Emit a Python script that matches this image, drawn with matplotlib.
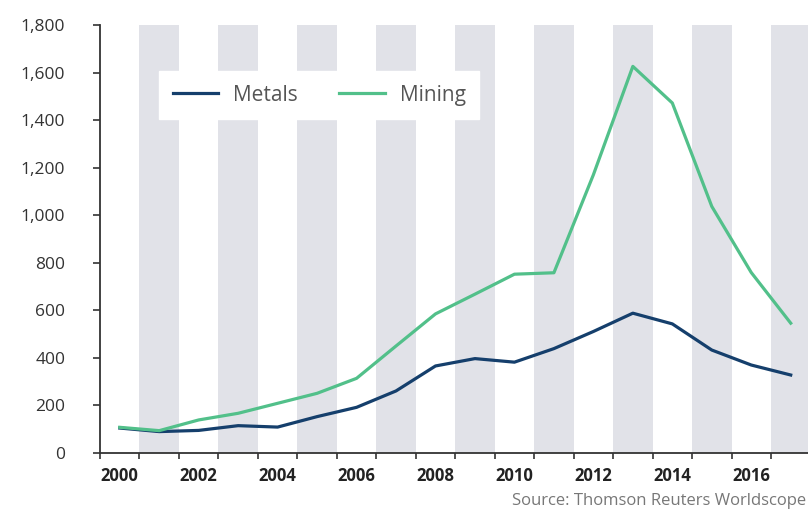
#Metals vs Mining chart
import matplotlib
matplotlib.use('Agg')
import matplotlib.pyplot as plt
import matplotlib.ticker as mticker

years = list(range(2000, 2018))
metals = [105, 90, 95, 115, 109, 153, 192, 261, 366, 397, 382, 439, 511, 588, 543, 433, 370, 328]
mining = [108, 94, 139, 167, 209, 251, 314, 450, 585, 668, 752, 758, 1170, 1626, 1472, 1037, 759, 546]
year_labels = [str(y) if y % 2 == 0 else '' for y in years]

plt.rcParams['font.family'] = ['Open Sans', 'DejaVu Sans']

fig = plt.figure(figsize=(8.08, 5.09), dpi=100)
ax = fig.add_axes([100/808, 1 - 453/509, 708/808, (453 - 25)/509])

pos = [i + 0.5 for i in range(len(years))]

#Shaded columns for odd years
for i, y in enumerate(years):
    if y % 2 == 1:
        ax.axvspan(i, i + 1, color='#e1e2e8', lw=0, zorder=0)

ax.plot(pos, metals, color='#153f6c', lw=2.3, label='Metals', zorder=3)
ax.plot(pos, mining, color='#52c08a', lw=2.3, label='Mining', zorder=3)

ax.set_xlim(0, 708/39.47)
ax.set_ylim(0, 1800)

#Ticks on year boundaries, labels in the middle of each year
ax.set_xticks(range(len(years)))
ax.set_xticklabels([])
ax.set_xticks(pos, minor=True)
ax.set_xticklabels(year_labels, minor=True, fontsize=12, fontweight='bold', color='#222222')
ax.tick_params(axis='x', which='minor', length=0, pad=10)
ax.tick_params(axis='x', which='major', length=4, width=1.2, color='#333333', direction='out')

ax.set_yticks(range(0, 1801, 200))
ax.yaxis.set_major_formatter(mticker.FuncFormatter(lambda v, p: f'{int(v):,}'))
ax.tick_params(axis='y', length=5, width=1.2, color='#333333', pad=20, labelsize=12.5, labelcolor='#333333')

for s in ['top', 'right']:
    ax.spines[s].set_visible(False)
for s in ['left', 'bottom']:
    ax.spines[s].set_color('#333333')
    ax.spines[s].set_linewidth(1.3)

leg = ax.legend(ncol=2, loc='upper left', bbox_to_anchor=(159/808, 1 - 71/509),
                bbox_transform=fig.transFigure, frameon=True, fancybox=False,
                fontsize=15, handlelength=2.2, handletextpad=0.7, columnspacing=2.0,
                borderpad=0.65, borderaxespad=0, labelcolor='#555555')
leg.get_frame().set_facecolor('white')
leg.get_frame().set_edgecolor('white')
leg.get_frame().set_alpha(1)

fig.text(806/808, 1 - 501/509, 'Source: Thomson Reuters Worldscope', ha='right', va='center',
         fontsize=12, color='#777777')

plt.savefig('out.png', dpi=100)
